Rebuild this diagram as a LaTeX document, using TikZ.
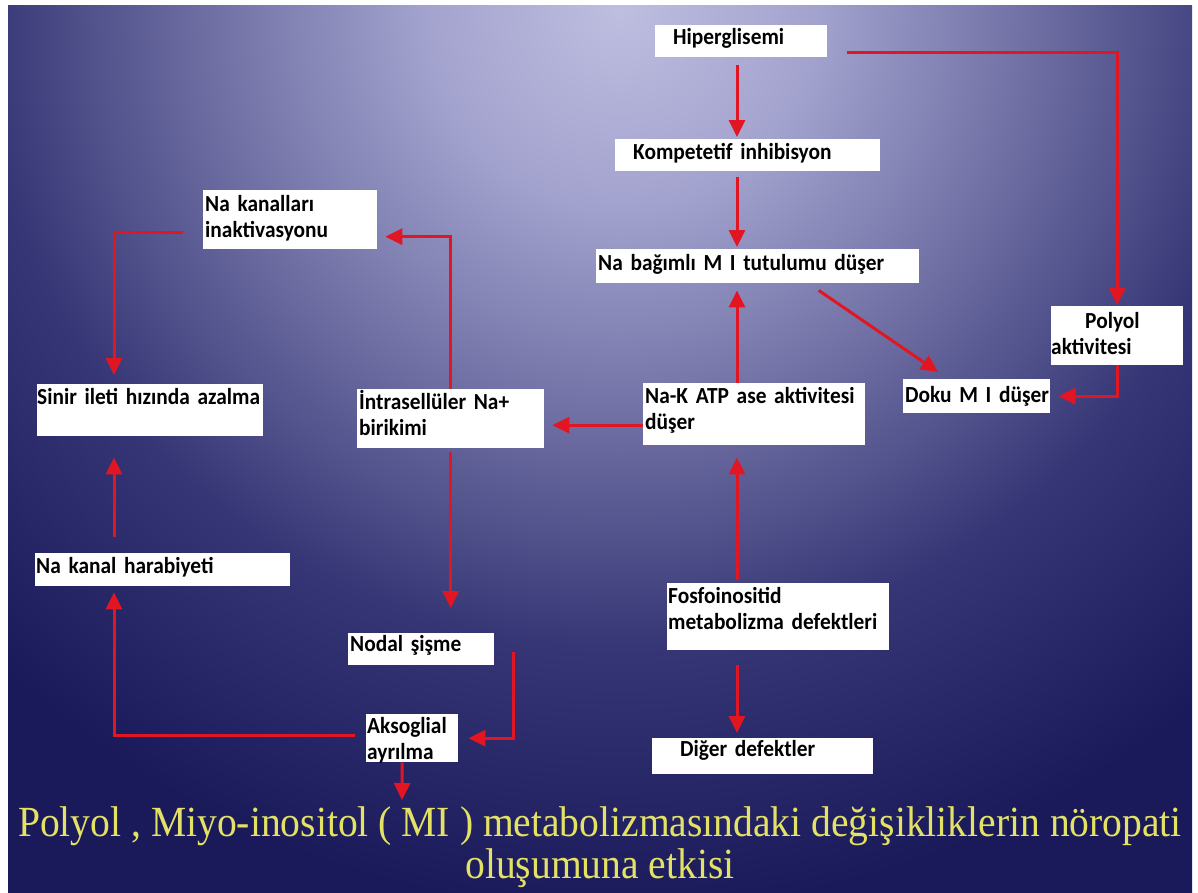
\documentclass[tikz,border=0pt]{standalone}
\usepackage{fontspec}
\usepackage{tikz}
\usetikzlibrary{arrows.meta}
\newfontfamily\boxfont[FakeStretch=0.93]{Carlito}
\newfontfamily\capfont[FakeStretch=0.92]{Liberation Serif}
\newcommand\tightspace{\spaceskip=4pt plus 1pt minus 1pt\relax}
\definecolor{arrowred}{RGB}{226,22,34}
\definecolor{capyellow}{RGB}{228,226,100}
\definecolor{glowA}{RGB}{190,190,224}
\definecolor{glowB}{RGB}{162,162,206}
\definecolor{glowC}{RGB}{104,104,158}
\definecolor{glowD}{RGB}{54,54,118}
\definecolor{glowE}{RGB}{26,26,90}
% slide background
\pgfdeclareradialshading{slideglow}{\pgfpoint{0bp}{0bp}}{%
  color(0bp)=(glowA); color(4.5bp)=(glowB); color(10bp)=(glowC);
  color(14.5bp)=(glowD); color(20.5bp)=(glowE); color(50bp)=(glowE)}
\tikzset{
    redarrow/.style={
        line width=3pt,
        arrowred,
        ->,
        >={Triangle[length=17pt, width=16pt]}
    },
    % white text boxes
    whitebox/.style={
        fill=white,
        text=black,
        anchor=north west,
        align=left,
        inner xsep=2pt,
        inner ysep=0pt,
        font=\boxfont\bfseries\fontsize{23}{26}\selectfont\tightspace
    }
}
\begin{document}
\begin{tikzpicture}[x=1pt,y=-1pt]
    \useasboundingbox (0,0) rectangle (1198,892);
    \fill[white] (0,0) rectangle (1198,892);
    \begin{scope}
     \clip (8,5) rectangle (1192,892);
     \shade[shading=slideglow] (620,10) circle (1100);
    \end{scope}

    % ===================== boxes =====================
    \node[whitebox, text width=168pt, text height=19pt, text depth=13pt] (hiper) at (655,25) {\hspace*{16pt}Hiperglisemi};
    \node[whitebox, text width=261pt, text height=20pt, text depth=12pt] (komp) at (615,139) {\hspace*{16pt}Kompetetif inhibisyon};
    \node[whitebox, text width=319pt, text height=21pt, text depth=13pt] (nabag) at (596,249) {Na bağımlı M I tutulumu düşer};
    \node[whitebox, inner xsep=0pt, text width=132pt, text height=22pt, text depth=37pt] (polyol) at (1051,306) {\hspace*{34pt}Polyol\\aktivitesi};
    \node[whitebox, text width=143pt, text height=23pt, text depth=11pt] (doku) at (903,379) {\mbox{Doku M I düşer}};
    \node[whitebox, text width=218pt, text height=20pt, text depth=42pt] (nak) at (643,383) {Na-K ATP ase aktivitesi\\düşer};
    \node[whitebox, text width=183pt, text height=20pt, text depth=39pt] (intra) at (357,389) {İntrasellüler Na+\\birikimi};
    \node[whitebox, inner xsep=0pt, text width=226pt, text height=20pt, text depth=32pt] (sinir) at (37,384) {\mbox{Sinir ileti hızında azalma}};
    \node[whitebox, text width=170pt, text height=21pt, text depth=38pt] (nakan) at (203,190) {Na kanalları\\inaktivasyonu};
    \node[whitebox, inner xsep=1pt, text width=253pt, text height=20pt, text depth=13pt] (harab) at (35,553) {Na kanal harabiyeti};
    \node[whitebox, text width=142pt, text height=18pt, text depth=14pt] (nodal) at (348,633) {Nodal şişme};
    \node[whitebox, inner xsep=1pt, text width=90pt, text height=19pt, text depth=29pt] (akso) at (366,714) {Aksoglial\\ayrılma};
    \node[whitebox, inner xsep=1pt, text width=220pt, text height=20pt, text depth=47pt] (fosfo) at (667,583) {Fosfoinositid\\metabolizma defektleri};
    \node[whitebox, text width=217pt, text height=18pt, text depth=18pt] (diger) at (652,738) {\hspace*{26pt}Diğer defektler};

    % caption (anchored on the second line)
    \node[anchor=base, text=capyellow, align=center, inner sep=0pt,
          font=\capfont\fontsize{43}{42}\selectfont] (caption) at (600,878)
          {Polyol , Miyo-inositol ( MI ) metabolizmasındaki değişikliklerin nöropati\\oluşumuna etkisi};

    % ===================== arrows =====================
    \coordinate (mainx) at (737,0);
    \coordinate (leftx) at (114,0);
    \coordinate (aksotip) at (402,800);

    \draw[redarrow, shorten <=8pt, shorten >=2pt] (hiper.south -| mainx) -- (komp.north -| mainx);
    \draw[redarrow, shorten <=6pt, shorten >=2pt] (komp.south -| mainx) -- (nabag.north -| mainx);
    \draw[redarrow, shorten >=7pt] (nak.north -| mainx) -- (nabag.south -| mainx);
    \draw[redarrow, shorten <=3pt, shorten >=12pt] (fosfo.north -| mainx) -- (nak.south -| mainx);
    \draw[redarrow, shorten <=15pt, shorten >=5pt] (fosfo.south -| mainx) -- (diger.north -| mainx);

    \draw[redarrow, shorten <=20pt, shorten >=1pt] ([yshift=-11pt]hiper.east) -| (polyol.north);
    \draw[redarrow, shorten >=8pt] (polyol.south) |- (doku.east);
    \draw[redarrow] ([xshift=61pt,yshift=-7pt]nabag.south) -- ([xshift=35pt,yshift=7pt]doku.north west);
    \draw[redarrow, shorten >=8pt] ([yshift=-11pt]nak.west) -- ([yshift=-11pt]nak.west -| intra.east);

    \draw[redarrow, shorten >=8pt] (intra.north) |- ([yshift=-17pt]nakan.east);
    \draw[redarrow, shorten <=20pt, shorten >=9pt] ([yshift=-13pt]nakan.west) -| (sinir.north -| leftx);
    \draw[redarrow, shorten <=16pt, shorten >=21pt] (harab.north -| leftx) -- (sinir.south -| leftx);
    \draw[redarrow, shorten <=11pt, shorten >=6pt] ([yshift=3pt]akso.west) -| (harab.south -| leftx);
    \draw[redarrow, shorten <=4pt, shorten >=25pt] (intra.south) -- (nodal.north -| intra.south);
    \draw[redarrow, shorten >=10pt] ([xshift=19pt,yshift=-3pt]nodal.east) |- (akso.east);
    \draw[redarrow] ([xshift=-10pt]akso.south) -- (aksotip);
\end{tikzpicture}
\end{document}
